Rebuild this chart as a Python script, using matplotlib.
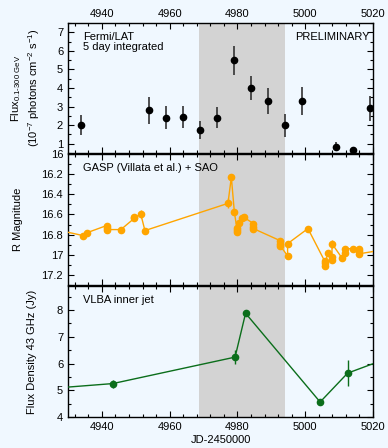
import matplotlib
matplotlib.use("Agg")
import matplotlib.pyplot as plt
from matplotlib.ticker import MultipleLocator

plt.rcParams['font.family'] = ['Liberation Sans', 'DejaVu Sans']
plt.rcParams['mathtext.fontset'] = 'custom'
plt.rcParams['mathtext.rm'] = 'Liberation Sans'
plt.rcParams['mathtext.it'] = 'Liberation Sans'
plt.rcParams['font.size'] = 8

# ---- data ----
fermi_t = [4933.8, 4953.9, 4958.9, 4963.9, 4969.0, 4973.9, 4978.9, 4984.0, 4989.0, 4994.1, 4999.1, 5009.1, 5014.1, 5019.2]
fermi_f = [2.0, 2.8, 2.4, 2.45, 1.75, 2.4, 5.5, 4.0, 3.3, 2.0, 3.3, 0.85, 0.65, 2.9]
fermi_e = [0.55, 0.72, 0.62, 0.6, 0.5, 0.58, 0.78, 0.65, 0.7, 0.62, 0.75, 0.25, 0.18, 0.65]

gasp_t = [4925.0, 4934.5, 4935.7, 4941.4, 4941.4, 4941.4, 4945.6, 4949.5, 4949.6, 4951.5, 4952.7,
          4977.2, 4978.2, 4979.1, 4979.8, 4979.8, 4979.8, 4980.4, 4981.3, 4982.0,
          4984.7, 4984.7, 4984.7, 4992.6, 4992.6, 4992.6, 4994.8, 4994.8,
          5000.8, 5005.7, 5005.7, 5005.7, 5006.7, 5007.9, 5007.9, 5007.9,
          5010.8, 5011.8, 5011.8, 5014.0, 5016.0, 5016.0, 5016.0, 5025.0]
gasp_m = [16.74, 16.81, 16.78, 16.71, 16.73, 16.75, 16.75, 16.64, 16.63, 16.60, 16.76,
          16.49, 16.23, 16.58, 16.73, 16.75, 16.77, 16.68, 16.64, 16.63,
          16.69, 16.72, 16.74, 16.86, 16.89, 16.91, 17.01, 16.89,
          16.74, 17.06, 17.08, 17.11, 16.98, 17.05, 17.02, 16.89,
          17.03, 16.98, 16.94, 16.94, 16.94, 16.96, 16.99, 16.94]
gasp_e = [0.0, 0.01, 0.01, 0.01, 0.01, 0.01, 0.01, 0.01, 0.01, 0.04, 0.01,
          0.05, 0.01, 0.01, 0.01, 0.01, 0.01, 0.01, 0.01, 0.01,
          0.01, 0.01, 0.01, 0.01, 0.01, 0.01, 0.01, 0.01,
          0.01, 0.01, 0.01, 0.01, 0.01, 0.01, 0.01, 0.04,
          0.01, 0.01, 0.01, 0.01, 0.01, 0.01, 0.01, 0.0]

vlba_t = [4915.0, 4943.2, 4979.3, 4982.4, 5004.4, 5012.5, 5028.0]
vlba_f = [4.97, 5.25, 6.24, 7.88, 4.56, 5.64, 6.37]
vlba_e = [0.0, 0.15, 0.27, 0.12, 0.06, 0.48, 0.0]

shade = (4968.7, 4994.0)
xlim = (4930, 5020)

bg = '#f0f8ff'
orange = '#ffa500'
green = '#0b6e1b'

fig = plt.figure(figsize=(3.88, 4.48), dpi=100, facecolor=bg)
W, H = 388, 448
left, right = 68 / W, 373 / W
tops = [23, 154, 286]
bots = [153, 285, 417]
axes = []
for t, b in zip(tops, bots):
    ax = fig.add_axes([left, 1 - b / H, right - left, (b - t) / H])
    ax.set_facecolor(bg)
    axes.append(ax)

for ax in axes:
    ax.set_xlim(*xlim)
    ax.axvspan(*shade, color='#d3d3d3', lw=0, zorder=0)
    ax.xaxis.set_major_locator(MultipleLocator(20))
    ax.xaxis.set_minor_locator(MultipleLocator(4))
    ax.tick_params(which='both', direction='in', top=True, right=True, labelsize=8, width=0.8)
    ax.tick_params(which='major', length=4)
    ax.tick_params(which='minor', length=2)
    for s in ax.spines.values():
        s.set_linewidth(1.0)

tx = 0.05

# top panel
ax = axes[0]
ax.errorbar(fermi_t, fermi_f, yerr=fermi_e, fmt='o', color='black', ms=4.5,
            ecolor='#333333', elinewidth=1.2, capsize=0, zorder=3)
ax.set_ylim(0.5, 7.5)
ax.yaxis.set_minor_locator(MultipleLocator(0.5))
ax.set_yticks([1, 2, 3, 4, 5, 6, 7])
ax.tick_params(axis='x', labelbottom=False, labeltop=True, pad=3)
ax.set_ylabel('Flux$_{0.1\u2010300\\ GeV}$\n(10$^{-7}$ photons cm$^{-2}$ s$^{-1}$)',
              fontsize=8, linespacing=1.3)
ax.yaxis.set_label_coords(-0.085, 0.5)
ax.text(tx, 0.93, 'Fermi/LAT\n5 day integrated', transform=ax.transAxes,
        ha='left', va='top', fontsize=8, linespacing=1.0)
ax.text(0.99, 0.93, 'PRELIMINARY', transform=ax.transAxes,
        ha='right', va='top', fontsize=8)

# middle panel
ax = axes[1]
ax.errorbar(gasp_t, gasp_m, yerr=gasp_e, fmt='-o', color=orange, ms=4.5,
            lw=1.0, elinewidth=1.0, capsize=0, zorder=3)
ax.set_ylim(17.3, 16.0)
ax.set_yticks([16, 16.2, 16.4, 16.6, 16.8, 17, 17.2])
ax.set_yticklabels(['16', '16.2', '16.4', '16.6', '16.8', '17', '17.2'])
ax.yaxis.set_minor_locator(MultipleLocator(0.1))
ax.tick_params(axis='x', labelbottom=False)
ax.set_ylabel('R Magnitude', fontsize=8)
ax.yaxis.set_label_coords(-0.148, 0.5)
ax.text(tx, 0.93, 'GASP (Villata et al.) + SAO', transform=ax.transAxes,
        ha='left', va='top', fontsize=8)

# bottom panel
ax = axes[2]
ax.errorbar(vlba_t, vlba_f, yerr=vlba_e, fmt='-o', color=green, ms=4.5,
            lw=1.0, elinewidth=1.0, capsize=0, zorder=3)
ax.set_ylim(4, 8.9)
ax.set_yticks([4, 5, 6, 7, 8])
ax.yaxis.set_minor_locator(MultipleLocator(0.5))
ax.set_ylabel('Flux Density 43 GHz (Jy)', fontsize=8)
ax.yaxis.set_label_coords(-0.10, 0.5)
ax.set_xlabel('JD-2450000', fontsize=8, labelpad=2)
ax.text(tx, 0.93, 'VLBA inner jet', transform=ax.transAxes,
        ha='left', va='top', fontsize=8)

fig.savefig('out.png', dpi=100, facecolor=bg)
